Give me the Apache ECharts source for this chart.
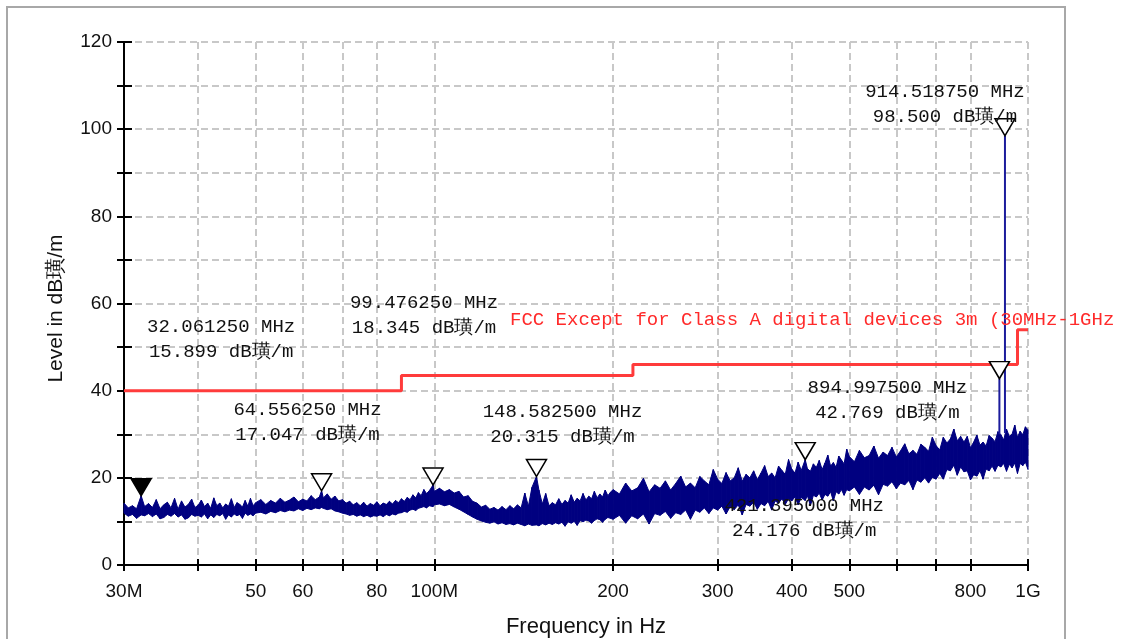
<!DOCTYPE html>
<html>
<head>
<meta charset="utf-8">
<script src="https://cdn.jsdelivr.net/npm/echarts@6/dist/echarts.min.js"></script>
<style>
  html, body { margin: 0; padding: 0; background: #ffffff; }
  #chart { width: 1128px; height: 639px; }
</style>
</head>
<body>
<div id="chart"></div>
<script>
// ---- axis ticks ----
const xTickMHz = [30, 40, 50, 60, 70, 80, 100, 200, 300, 400, 500, 600, 700, 800, 1000];
const xLabelMHz = [30, 50, 60, 80, 100, 200, 300, 400, 500, 800, 1000];
const xLabelNames = { 30: '30M', 100: '100M', 1000: '1G' };

// ---- measured trace (MHz / dBµV/m), upper and lower edge of the sweep ----
const traceMHz = [
  30, 30.5, 31, 31.5, 32.06125, 32.5, 33, 33.5, 34, 34.5, 35, 35.5, 36, 36.5, 37, 37.5, 38, 38.5, 39, 39.5,
  40, 40.5, 41, 41.5, 42, 42.5, 43, 43.5, 44, 44.5, 45, 45.5, 46, 46.5, 47, 47.5, 48, 48.5, 49, 49.5,
  50, 51, 52, 53, 54, 55, 56, 57, 58, 59, 60, 61, 62, 63, 64, 64.55625, 65, 66, 67, 68, 69,
  70, 71, 72, 73, 74, 75, 76, 77, 78, 79, 80, 81, 82, 83, 84, 85, 86, 87, 88, 89,
  90, 91, 92, 93, 94, 95, 96, 97, 98, 99.47625,
  100, 102, 104, 106, 108, 110, 112, 114, 116, 118, 120, 122, 124, 126, 128, 130, 132, 134, 136, 138,
  140, 142, 144, 146, 148.5825, 150, 152, 154, 156, 158, 160, 162, 164, 166, 168, 170, 172, 174, 176, 178,
  180, 182, 184, 186, 188, 190, 192, 194, 196, 198,
  200, 205, 210, 215, 220, 225, 230, 235, 240, 245, 250, 255, 260, 265, 270, 275, 280, 285, 290, 295,
  300, 305, 310, 315, 320, 325, 330, 335, 340, 345, 350, 355, 360, 365, 370, 375, 380, 385, 390, 395,
  400, 405, 410, 415, 421.395, 425, 430, 435, 440, 445, 450, 455, 460, 465, 470, 475, 480, 485, 490, 495,
  500, 510, 520, 530, 540, 550, 560, 570, 580, 590, 600, 610, 620, 630, 640, 650, 660, 670, 680, 690,
  700, 710, 720, 730, 740, 750, 760, 770, 780, 790, 800, 810, 820, 830, 840, 850, 860, 870, 880, 890,
  900, 910, 920, 930, 940, 950, 960, 970, 980, 990, 1000
];
const traceTop = [
  14.2, 13.1, 13.6, 12.9, 15.899, 13.4, 14.1, 13.2, 15.0, 12.9, 13.8, 14.4, 13.1, 15.3, 12.8, 14.7, 13.3, 13.9, 15.1, 13.2,
  13.7, 14.9, 13.4, 14.2, 13.0, 15.4, 13.6, 14.2, 13.1, 14.0, 13.5, 15.2, 13.2, 14.3, 13.9, 13.3, 14.8, 13.5, 15.3, 13.6,
  14.3, 15.0, 13.9, 14.8, 14.2, 15.3, 14.4, 14.9, 15.6, 14.5, 15.1, 14.7, 15.9, 15.0, 15.6, 17.047, 15.4, 16.3, 15.1, 15.8, 14.7,
  15.0, 14.2, 14.6, 13.8, 14.3, 13.6, 14.4, 13.5, 14.1, 13.7, 14.5, 13.6, 14.2, 13.9, 14.6, 14.0, 14.8, 14.3, 15.2, 14.6,
  15.5, 15.0, 16.1, 15.4, 16.6, 15.9, 17.3, 16.4, 17.0, 18.345,
  16.9, 17.6, 16.8, 17.3, 16.5, 16.9, 15.6, 15.9, 14.6, 14.2, 13.3, 13.7, 12.8, 13.2, 12.6, 13.4, 12.7, 13.6, 12.9, 13.8,
  13.1, 16.5, 13.5, 17.8, 20.315, 17.2, 14.0, 16.4, 13.6, 14.3, 13.8, 15.2, 13.9, 14.8, 14.2, 16.1, 14.4, 15.3, 14.7, 16.4,
  14.9, 15.8, 15.2, 16.9, 15.4, 16.3, 15.6, 17.2, 15.9, 16.7,
  17.3, 16.3, 18.8, 17.0, 17.7, 19.9, 16.8, 18.4, 17.6, 19.3, 17.2, 18.7, 20.4, 17.9, 18.8, 17.7, 20.3, 19.3, 18.4, 21.9,
  19.7, 18.7, 21.2, 19.3, 20.0, 22.3, 19.2, 20.8, 20.0, 21.6, 19.6, 21.1, 22.8, 20.3, 21.1, 20.0, 22.7, 21.7, 20.8, 24.2,
  22.0, 21.1, 23.6, 21.7, 24.176, 22.1, 21.5, 23.2, 22.4, 24.0, 21.9, 23.4, 25.2, 22.7, 23.5, 22.4, 25.0, 24.1, 23.2, 26.6,
  24.9, 23.7, 26.3, 24.6, 25.1, 27.3, 24.5, 25.9, 25.1, 27.0, 24.8, 26.2, 27.8, 25.5, 26.3, 25.4, 27.7, 27.0, 26.1, 29.3,
  27.4, 26.4, 29.3, 28.0, 28.9, 31.2, 28.5, 29.5, 28.2, 29.5, 26.9, 28.2, 29.8, 27.5, 28.2, 27.3, 29.7, 29.1, 28.3, 30.6,
  29.9, 28.7, 31.2, 29.5, 30.0, 32.1, 29.3, 30.7, 29.9, 31.7, 31.0
];
const traceBottom = [
  11.9, 11.2, 11.6, 10.7, 11.5, 11.3, 11.8, 11.1, 11.7, 10.6, 10.9, 11.6, 11.2, 11.8, 11.0, 11.5, 10.5, 10.8, 11.6, 11.2,
  11.4, 11.0, 11.7, 10.6, 11.5, 10.9, 11.6, 11.3, 11.8, 10.5, 11.5, 11.0, 11.7, 11.3, 11.6, 10.7, 11.9, 11.4, 11.7, 11.3,
  11.9, 12.1, 11.7, 12.3, 12.0, 12.5, 12.2, 12.6, 12.4, 12.9, 12.5, 13.0, 12.7, 13.1, 12.9, 13.2, 13.0, 12.7, 12.9, 12.4, 12.2,
  11.9, 11.7, 11.4, 11.6, 11.2, 11.5, 11.1, 11.4, 11.0, 11.3, 11.2, 11.5, 11.1, 11.6, 11.3, 11.7, 11.5, 11.9, 12.0, 12.3,
  12.1, 12.6, 12.8, 12.5, 13.0, 13.2, 13.4, 13.1, 13.6, 13.4,
  13.8, 14.0, 13.6, 13.9, 13.3, 12.8, 12.2, 11.6, 11.0, 10.5, 10.1, 9.8, 9.6, 9.9, 9.4, 9.7, 9.3, 9.5, 9.2, 9.6,
  9.3, 9.0, 9.4, 9.1, 9.2, 9.0, 9.5, 9.2, 9.6, 9.3, 9.7, 9.4, 9.8, 8.9, 9.9, 9.6, 10.0, 9.1, 10.2, 9.9,
  10.3, 10.1, 9.6, 10.2, 10.6, 10.4, 9.8, 10.5, 10.9, 10.7,
  10.5, 11.4, 9.6, 11.3, 10.6, 11.7, 9.4, 11.8, 11.4, 12.3, 10.7, 12.0, 11.6, 12.6, 10.5, 12.6, 12.1, 13.1, 11.8, 13.1,
  12.6, 13.5, 11.7, 13.4, 12.7, 13.8, 11.5, 13.9, 13.5, 14.4, 12.8, 14.1, 13.6, 14.6, 12.6, 14.7, 14.2, 15.2, 13.9, 15.2,
  14.7, 15.6, 13.8, 15.5, 14.8, 15.9, 13.6, 16.0, 15.6, 16.5, 14.9, 16.2, 15.8, 16.8, 14.7, 16.8, 16.3, 17.3, 16.0, 17.3,
  17.0, 17.9, 16.2, 17.9, 17.2, 18.3, 16.1, 18.5, 18.1, 19.1, 17.5, 18.8, 18.4, 19.4, 17.3, 19.5, 19.0, 20.0, 18.8, 20.1,
  19.7, 21.0, 19.7, 21.9, 21.6, 22.9, 20.6, 22.5, 21.4, 21.6, 19.5, 20.7, 20.4, 21.6, 19.7, 22.0, 21.6, 22.7, 21.5, 22.9,
  22.5, 23.3, 21.5, 23.1, 22.3, 23.4, 21.0, 23.3, 22.8, 23.6, 21.9
];

// ---- narrow carriers rising out of the noise floor ----
const carrierMHz = [894.9975, 914.51875];
const carrierFloor = [30.0, 30.3];

// ---- limit line: FCC Class B, 3 m ----
const limitMHz = [30, 88, 88, 216, 216, 960, 960, 1000];
const limitLevel = [40, 40, 43.5, 43.5, 46, 46, 54, 54];
const limitName = 'FCC Except for Class A digital devices 3m (30MHz-1GHz';

// ---- peak markers ----
const markerMHz = [32.06125, 64.55625, 99.47625, 148.5825, 421.395, 894.9975, 914.51875];
const markerLevel = [15.899, 17.047, 18.345, 20.315, 24.176, 42.769, 98.5];

// label block offsets from each marker tip, in pixels
const markerLabelShift = [[80, -156], [-14, -68], [-9, -170], [26, -52], [-1, 59], [-112, 22], [-60, -31]];

const UNIT = 'dB璜/m';
const NAVY = '#000080';
const MONO = '"Liberation Mono", "DejaVu Sans Mono", monospace';
const SANS = '"Liberation Sans", Arial, sans-serif';

const chart = echarts.init(document.getElementById('chart'), null, { renderer: 'canvas' });

// one quad per sweep step, spanning the upper and lower edge of the trace
const bandData = traceMHz.slice(0, -1).map((f, i) => [
  f, traceTop[i], traceBottom[i], traceMHz[i + 1], traceTop[i + 1], traceBottom[i + 1]
]);

const carrierData = [];
carrierMHz.forEach((f, i) => {
  const k = markerMHz.indexOf(f);
  carrierData.push([f, carrierFloor[i]], [f, markerLevel[k]], [f, '-']);
});

const xCommon = { type: 'log', logBase: 10, min: 30, max: 1000, position: 'bottom' };
const yCommon = { type: 'value', min: 0, max: 120, interval: 10, position: 'left' };

const option = {
  animation: false,
  backgroundColor: '#ffffff',
  grid: { left: 124, right: 100, top: 42, bottom: 74, outerBoundsMode: 'none', containLabel: false },
  xAxis: [
    Object.assign({}, xCommon, {
      name: 'Frequency in Hz',
      nameLocation: 'middle',
      nameGap: 51,
      nameTextStyle: { fontFamily: SANS, fontSize: 22, color: '#111', padding: [0, 0, 0, 20] },
      axisLine: { show: true, onZero: false, lineStyle: { color: '#000', width: 2 } },
      axisTick: { show: true, customValues: xTickMHz, length: 6, lineStyle: { color: '#000', width: 2 } },
      axisLabel: {
        show: true, customValues: xLabelMHz, margin: 17,
        fontFamily: SANS, fontSize: 19, color: '#111',
        formatter: v => xLabelNames[v] || String(v)
      },
      splitLine: { show: true, lineStyle: { color: '#c8c8c8', width: 2, type: [7, 4] } }
    }),
    Object.assign({}, xCommon, {
      axisLine: { show: false },
      axisTick: { show: true, inside: true, customValues: xTickMHz, length: 6, lineStyle: { color: '#000', width: 2 } },
      axisLabel: { show: false },
      splitLine: { show: false }
    })
  ],
  yAxis: [
    Object.assign({}, yCommon, {
      name: 'Level in dB璜/m',
      nameLocation: 'middle',
      nameGap: 57,
      nameTextStyle: { fontFamily: SANS, fontSize: 21, color: '#111', padding: [0, 10, 0, 0] },
      axisLine: { show: true, onZero: false, lineStyle: { color: '#000', width: 2 } },
      axisTick: { show: true, length: 7, lineStyle: { color: '#000', width: 2 } },
      axisLabel: {
        margin: 12, fontFamily: SANS, fontSize: 19, color: '#111',
        formatter: v => (v % 20 === 0 ? String(v) : '')
      },
      splitLine: { show: true, lineStyle: { color: '#c8c8c8', width: 2, type: [7, 4] } }
    }),
    Object.assign({}, yCommon, {
      axisLine: { show: false },
      axisTick: { show: true, inside: true, length: 8, lineStyle: { color: '#000', width: 2 } },
      axisLabel: { show: false },
      splitLine: { show: false }
    })
  ],
  series: [
    {
      name: 'sweep',
      type: 'custom',
      data: bandData,
      encode: { x: [0, 3], y: [1, 2, 4, 5] },
      renderItem: (params, api) => {
        const a = api.coord([api.value(0), api.value(1)]);
        const b = api.coord([api.value(3), api.value(4)]);
        const c = api.coord([api.value(3), api.value(5)]);
        const d = api.coord([api.value(0), api.value(2)]);
        return {
          type: 'polygon',
          shape: { points: [a, b, c, d] },
          style: { fill: NAVY, stroke: NAVY, lineWidth: 1 }
        };
      },
      silent: true,
      z: 3
    },
    {
      name: 'carriers',
      type: 'line',
      data: carrierData,
      symbol: 'none',
      connectNulls: false,
      lineStyle: { color: '#1c1c9c', width: 2 },
      z: 4
    },
    {
      name: 'limit',
      type: 'line',
      data: limitMHz.map((f, i) => [f, limitLevel[i]]),
      symbol: 'none',
      lineStyle: { color: '#ff3b3b', width: 3 },
      z: 5
    },
    {
      name: 'markers',
      type: 'scatter',
      data: markerMHz.map((f, i) => ({
        value: [f, markerLevel[i]],
        itemStyle: i === 0 ? { color: '#000', borderColor: '#000' } : undefined
      })),
      symbol: 'path://M0,0 L20,0 L10,17 Z',
      symbolSize: [20, 17],
      symbolOffset: [0, '-50%'],
      itemStyle: { color: '#ffffff', borderColor: '#000', borderWidth: 1.5, opacity: 1 },
      z: 6
    }
  ]
};

chart.setOption(option);

// marker readouts and the limit caption
const graphics = [
  {
    type: 'rect', silent: true, z: 0,
    shape: { x: 7, y: 7, width: 1058, height: 700 },
    style: { fill: null, stroke: '#a8a8a8', lineWidth: 2 }
  },
  {
    type: 'text', silent: true, z: 10, x: 510, y: 320,
    style: {
      text: limitName, fill: '#ff2a2a', font: '19px ' + MONO,
      textAlign: 'left', textVerticalAlign: 'middle'
    }
  }
];
markerMHz.forEach((f, i) => {
  const p = chart.convertToPixel({ seriesIndex: 3 }, [f, markerLevel[i]]);
  const s = markerLabelShift[i];
  graphics.push({
    type: 'text', silent: true, z: 10,
    x: p[0] + s[0], y: p[1] + s[1],
    style: {
      text: f.toFixed(6) + ' MHz\n' + markerLevel[i].toFixed(3) + ' ' + UNIT,
      fill: '#111', font: '19px ' + MONO, lineHeight: 25,
      textAlign: 'center', textVerticalAlign: 'middle', align: 'center', verticalAlign: 'middle'
    }
  });
});
chart.setOption({ graphic: graphics });
</script>
</body>
</html>
